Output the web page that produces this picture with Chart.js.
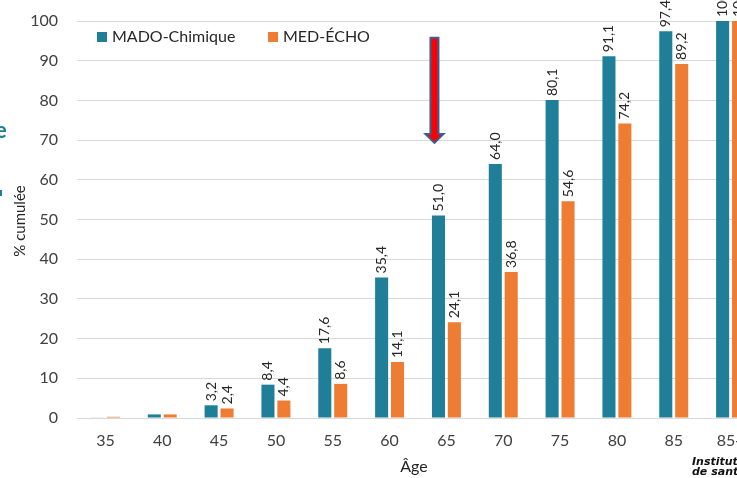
<!DOCTYPE html>
<html>
<head>
<meta charset="utf-8">
<script src="https://cdn.jsdelivr.net/npm/chart.js@4/dist/chart.umd.min.js"></script>
<style>
  html, body { margin: 0; padding: 0; background: #fff; overflow: hidden; }
  #wrap { width: 737px; height: 478px; overflow: hidden; position: relative; }
</style>
</head>
<body>
<div id="wrap"><canvas id="ageChart" width="760" height="478"></canvas></div>
<script>
// Cumulative % by age group
const ages = ["35", "40", "45", "50", "55", "60", "65", "70", "75", "80", "85", "85+"];
const madoValues = [0.1, 0.9, 3.2, 8.4, 17.6, 35.4, 51.0, 64.0, 80.1, 91.1, 97.4, 100];
const medValues = [0.3, 0.9, 2.4, 4.4, 8.6, 14.1, 24.1, 36.8, 54.6, 74.2, 89.2, 100];
const showLabelFrom = 2; // labels drawn from age 45 on
const yTicks = [0, 10, 20, 30, 40, 50, 60, 70, 80, 90, 100];

const TEAL = "#1F7F98";
const ORANGE = "#EE7D33";
const FONT = "Lato, 'Open Sans', sans-serif";

// value labels, rotated above each bar
const barLabels = {
  id: "barLabels",
  afterDatasetsDraw(chart) {
    const ctx = chart.ctx;
    ctx.save();
    ctx.font = "14px " + FONT;
    ctx.fillStyle = "#262626";
    ctx.textAlign = "left";
    ctx.textBaseline = "middle";
    chart.data.datasets.forEach(function (ds, di) {
      chart.getDatasetMeta(di).data.forEach(function (bar, i) {
        if (i < showLabelFrom) return;
        const v = ds.data[i];
        const txt = v === 100 ? "100" : v.toFixed(1).replace(".", ",");
        ctx.save();
        ctx.translate(bar.x, bar.y - 4);
        ctx.rotate(-Math.PI / 2);
        ctx.fillText(txt, 0, 0);
        ctx.restore();
      });
    });
    ctx.restore();
  }
};

// legend inside plot, titles, arrow and side texts
const extras = {
  id: "extras",
  afterDraw(chart) {
    const ctx = chart.ctx;
    const y = chart.scales.y;
    ctx.save();

    // legend
    ctx.font = "16px " + FONT;
    ctx.textBaseline = "middle";
    ctx.textAlign = "left";
    ctx.fillStyle = TEAL;
    ctx.fillRect(97, 32, 10, 10);
    ctx.fillStyle = "#262626";
    ctx.fillText("MADO-Chimique", 112, 37);
    ctx.fillStyle = ORANGE;
    ctx.fillRect(268, 32, 10, 10);
    ctx.fillStyle = "#262626";
    ctx.fillText("MED-ÉCHO", 283, 37);

    // y title
    ctx.save();
    ctx.translate(20, 221);
    ctx.rotate(-Math.PI / 2);
    ctx.textAlign = "center";
    ctx.font = "15px " + FONT;
    ctx.fillText("% cumulée", 0, 0);
    ctx.restore();

    // x title
    ctx.textAlign = "center";
    ctx.font = "16px " + FONT;
    ctx.fillText("Âge", 414, 467);

    // cut-off slide text on the left
    ctx.fillStyle = TEAL;
    ctx.font = "bold 22px " + FONT;
    ctx.textAlign = "left";
    ctx.fillText("e", -5, 131);
    ctx.fillRect(0, 190, 2, 6);

    // logo text bottom right
    ctx.fillStyle = "#111";
    ctx.font = "italic bold 11px 'DejaVu Sans', sans-serif";
    ctx.fillText("Institut", 692, 462);
    ctx.fillText("de santé", 692, 472);

    // arrow over the 65 group
    const ax = chart.getDatasetMeta(0).data[6].x - 4;
    const top = y.getPixelForValue(95.8);
    const tip = y.getPixelForValue(69.3);
    const headH = 9, shaftW = 8, headW = 18;
    ctx.beginPath();
    ctx.moveTo(ax - shaftW / 2, top);
    ctx.lineTo(ax + shaftW / 2, top);
    ctx.lineTo(ax + shaftW / 2, tip - headH);
    ctx.lineTo(ax + headW / 2, tip - headH);
    ctx.lineTo(ax, tip);
    ctx.lineTo(ax - headW / 2, tip - headH);
    ctx.lineTo(ax - shaftW / 2, tip - headH);
    ctx.closePath();
    ctx.fillStyle = "#FF0000";
    ctx.fill();
    ctx.lineWidth = 2;
    ctx.strokeStyle = "#3A5F95";
    ctx.stroke();

    ctx.restore();
  }
};

new Chart(document.getElementById("ageChart").getContext("2d"), {
  type: "bar",
  data: {
    labels: ages,
    datasets: [
      {
        label: "MADO-Chimique",
        data: madoValues,
        backgroundColor: TEAL,
        borderWidth: 0,
        categoryPercentage: 0.56,
        barPercentage: 0.82,
      },
      {
        label: "MED-ÉCHO",
        data: medValues,
        backgroundColor: ORANGE,
        borderWidth: 0,
        categoryPercentage: 0.56,
        barPercentage: 0.82,
      },
    ],
  },
  options: {
    responsive: false,
    animation: false,
    devicePixelRatio: 1,
    layout: { padding: { top: 21, right: 1, left: 0, bottom: 0 } },
    plugins: {
      legend: { display: false },
      tooltip: { enabled: false },
    },
    scales: {
      x: {
        grid: { display: false, drawTicks: false },
        border: { color: "#D9D9D9", width: 1 },
        ticks: {
          color: "#404040",
          font: { family: FONT, size: 16 },
          padding: 13,
          maxRotation: 0,
        },
        afterFit: function (scale) {
          scale.height = 60;
          scale.paddingLeft = 0;
          scale.paddingRight = 0;
        },
      },
      y: {
        min: 0,
        max: 100,
        afterBuildTicks: function (scale) {
          scale.ticks = yTicks.map(function (v) { return { value: v }; });
        },
        grid: { color: "#D9D9D9", drawTicks: false },
        border: { display: false },
        ticks: {
          color: "#404040",
          font: { family: FONT, size: 16 },
          padding: 19,
        },
        afterFit: function (scale) {
          scale.width = 77;
          scale.paddingTop = 0;
          scale.paddingBottom = 0;
        },
      },
    },
  },
  plugins: [barLabels, extras],
});
</script>
</body>
</html>
